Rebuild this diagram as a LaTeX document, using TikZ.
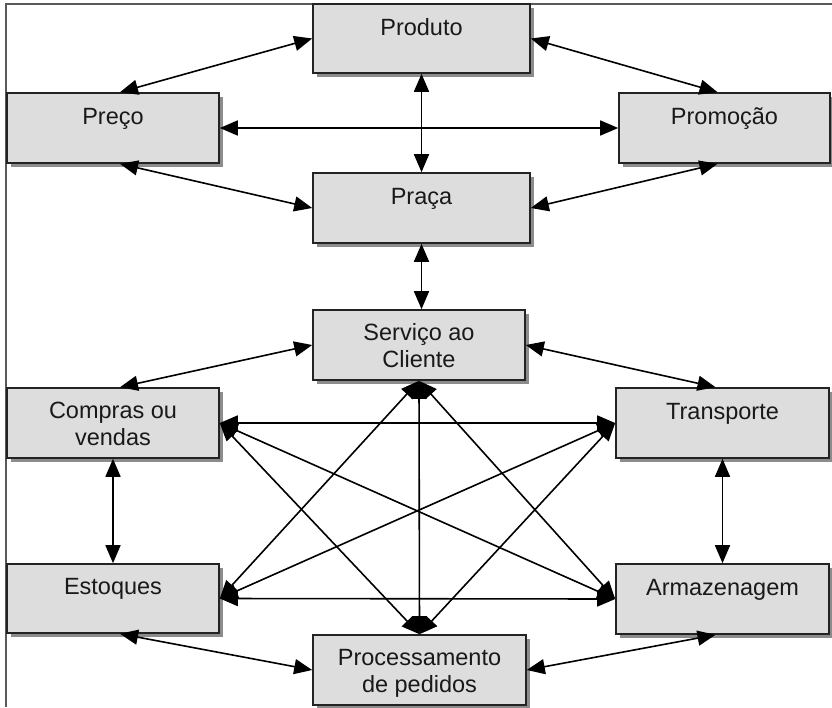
\documentclass[tikz,border=0pt]{standalone}
\usepackage{fontspec}
\setmainfont{Liberation Sans}
\usetikzlibrary{arrows.meta,shadows}
\definecolor{boxfill}{RGB}{221,221,221}
\definecolor{boxline}{RGB}{35,35,35}
\definecolor{txt}{RGB}{25,25,25}
\begin{document}
\begin{tikzpicture}[x=1pt,y=-1pt,
  box/.style={draw=boxline, line width=1.6pt, fill=boxfill, minimum width=213pt, minimum height=70pt, inner sep=0pt,
    drop shadow={shadow xshift=4pt, shadow yshift=-4pt, fill=black!45, opacity=1}},
  lbl/.style={anchor=base, inner sep=0pt, text=txt, font=\fontsize{23.5}{27}\selectfont},
  conn/.style={{Triangle[length=18pt,width=15pt]}-{Triangle[length=18pt,width=15pt]}, line width=1.6pt, draw=black}]
\useasboundingbox (0,0) rectangle (832,707);
\fill[white] (0,0) rectangle (832,707);
% frame
\draw[line width=2pt, draw=black!65] (6,707) -- (6,4) -- (832,4);
% boxes
\node[box, minimum width=217pt, minimum height=69pt] (produto) at (421.5,38.5) {};
\node[box, minimum width=212pt] (preco) at (113,128) {};
\node[box, minimum width=211pt] (promocao) at (724.5,128) {};
\node[box, minimum width=217pt] (praca) at (421.5,208) {};
\node[box, minimum width=212pt] (servico) at (419,345) {};
\node[box, minimum width=212pt] (compras) at (113,423) {};
\node[box] (transporte) at (722.5,423) {};
\node[box, minimum width=212pt, minimum height=69pt] (estoques) at (113,598.5) {};
\node[box] (armazenagem) at (722.5,599) {};
\node[box] (processamento) at (419.5,670) {};
% labels
\node[lbl] (tprod) at ([yshift=3.5pt]produto.center) {Produto};
\node[lbl] (tpreco) at ([yshift=4pt]preco.center) {Preço};
\node[lbl] (tpromo) at ([yshift=4pt]promocao.center) {Promoção};
\node[lbl] (tpraca) at ([yshift=4pt]praca.center) {Praça};
\node[lbl] (tserv) at ([yshift=5pt]servico.center) {\begin{tabular}[t]{@{}c@{}}Serviço ao\\Cliente\end{tabular}};
\node[lbl] (tcomp) at ([yshift=5pt]compras.center) {\begin{tabular}[t]{@{}c@{}}Compras ou\\vendas\end{tabular}};
\node[lbl] (ttrans) at ([yshift=4pt]transporte.center) {Transporte};
\node[lbl] (testo) at ([yshift=4pt]estoques.center) {Estoques};
\node[lbl] (tarm) at ([yshift=4pt]armazenagem.center) {Armazenagem};
\node[lbl] (tproc) at ([yshift=5pt]processamento.center) {\begin{tabular}[t]{@{}c@{}}Processamento\\de pedidos\end{tabular}};
% connectors: marketing mix
\draw[conn] ([xshift=7pt]preco.north) -- (produto.west);
\draw[conn] (produto.east) -- ([xshift=-7pt]promocao.north);
\draw[conn] (preco.east) -- (promocao.west);
\draw[conn] (produto.south) -- (praca.north);
\draw[conn] ([xshift=7pt]preco.south) -- (praca.west);
\draw[conn] ([xshift=-7pt]promocao.south) -- (praca.east);
\draw[conn] (praca.south) -- (praca.south |- servico.north);
% logistics
\draw[conn] (servico.west) -- ([xshift=7pt]compras.north);
\draw[conn] (servico.east) -- ([xshift=-7pt]transporte.north);
\draw[conn] (compras.east) -- (transporte.west);
\draw[conn] (compras.east) -- (armazenagem.west);
\draw[conn] (compras.east) -- (processamento.north);
\draw[conn] (estoques.east) -- (transporte.west);
\draw[conn] (estoques.east) -- (armazenagem.west);
\draw[conn] (estoques.east) -- (servico.south);
\draw[conn] (servico.south) -- (processamento.north);
\draw[conn] (servico.south) -- (armazenagem.west);
\draw[conn] (processamento.north) -- (transporte.west);
\draw[conn] (compras.south) -- (estoques.north);
\draw[conn] (transporte.south) -- (armazenagem.north);
\draw[conn] ([xshift=7pt]estoques.south) -- (processamento.west);
\draw[conn] (processamento.east) -- ([xshift=-7pt]armazenagem.south);
\end{tikzpicture}
\end{document}
